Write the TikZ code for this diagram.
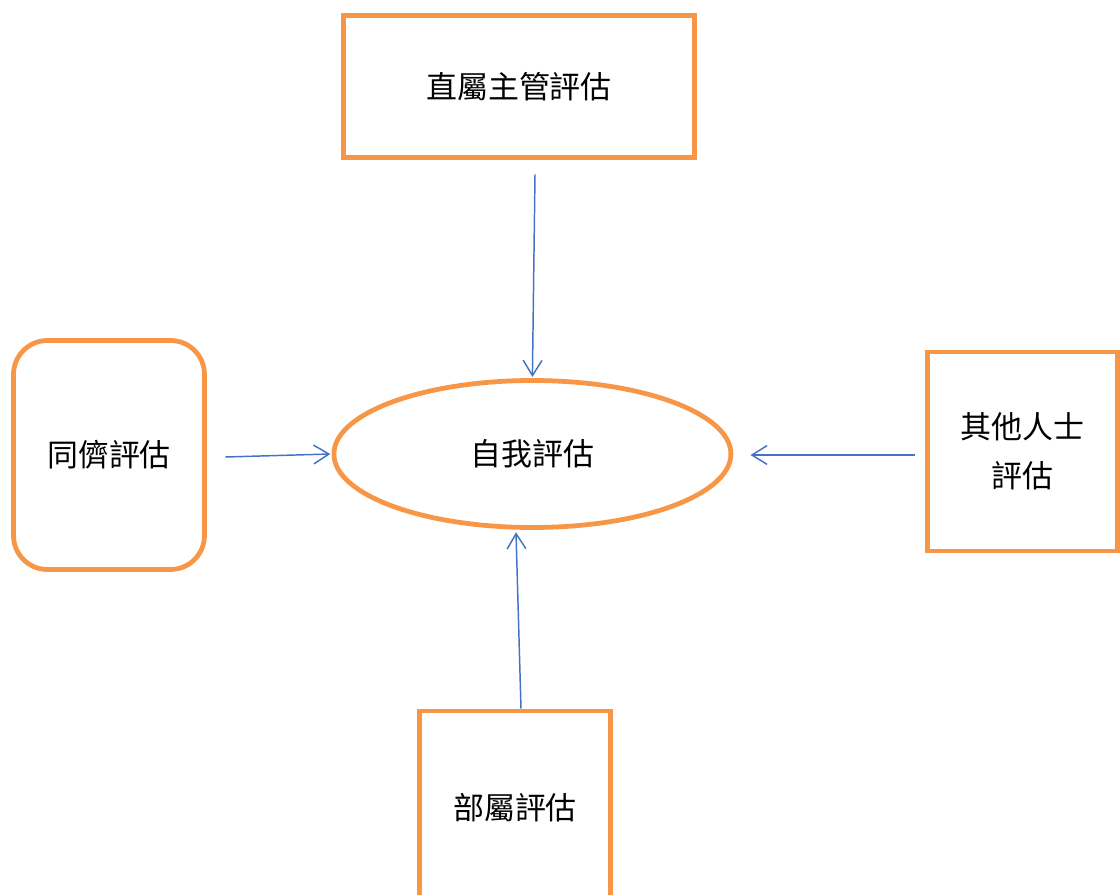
\documentclass[tikz,border=0pt]{standalone}
\usepackage{fontspec}
\setmainfont{Noto Sans CJK TC}
\usetikzlibrary{arrows.meta,shapes.geometric}
\definecolor{boxorange}{RGB}{247,150,70}
\definecolor{linkblue}{RGB}{68,114,196}
\tikzset{> = {Straight Barb[length=0.38cm, width=0.47cm]}}
\tikzset{
  evalbox/.style = {draw=boxorange, line width=3.4pt, inner sep=0pt, align=center,
                    font=\fontsize{22pt}{35pt}\selectfont},
  link/.style = {->, draw=linkblue, line width=1.05pt}
}

\begin{document}
\begin{tikzpicture}
\useasboundingbox (0,0) rectangle (28,-22.375);
% nodes
\node[evalbox, rectangle, minimum width=8.76cm, minimum height=3.55cm] (T) at (12.975, -2.1625) {直屬主管評估};
\node[evalbox, ellipse, minimum width=9.925cm, minimum height=3.675cm] (S) at (13.31, -11.35) {自我評估};
\node[evalbox, rectangle, rounded corners=0.85cm, minimum width=4.775cm, minimum height=5.725cm] (L) at (2.725, -11.375) {同儕評估};
\node[evalbox, rectangle, minimum width=4.75cm, minimum height=4.975cm] (R) at (25.56, -11.29) {其他人士\\評估};
\node[evalbox, rectangle, minimum width=4.775cm, minimum height=4.85cm] (B) at (12.875, -20.2) {部屬評估};
% edges
\draw[link] ([xshift=0.4cm, yshift=-0.36cm]T.south) -- ([yshift=0.03cm]S.north);
\draw[link] ([xshift=0.46cm, yshift=-0.05cm]L.east) -- ([xshift=-0.03cm]S.west);
\draw[link] ([xshift=-0.26cm, yshift=-0.085cm]R.west) -- ([xshift=0.43cm, yshift=-0.025cm]S.east);
\draw[link] ([xshift=0.15cm]B.north) -- ([xshift=-0.41cm, yshift=-0.06cm]S.south);
\end{tikzpicture}
\end{document}
